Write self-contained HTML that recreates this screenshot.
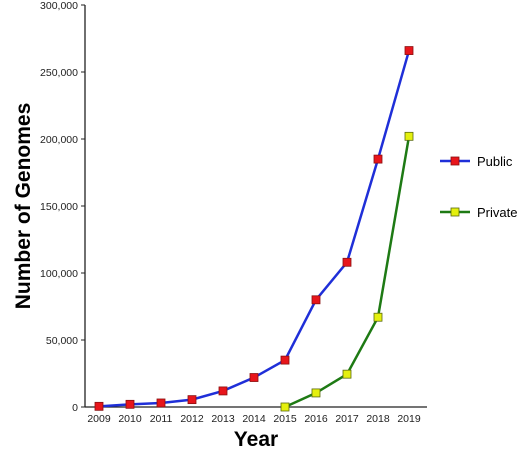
<!DOCTYPE html>
<html><head><style>
body{margin:0;background:#fff;width:520px;height:450px;overflow:hidden}
svg{font-family:"Liberation Sans",Arial,sans-serif}
</style></head><body>
<svg id="c" width="520" height="450">
<g id="axes"></g><g id="series"></g>
<text transform="translate(30,206) rotate(-90)" text-anchor="middle" font-size="21" font-weight="bold">Number of Genomes</text>
<text x="256" y="446" text-anchor="middle" font-size="21" font-weight="bold">Year</text>
<g>
<line x1="440" y1="161" x2="470" y2="161" stroke="#1f2fd8" stroke-width="2.5"/>
<rect x="451" y="157" width="8" height="8" fill="#e8151b" stroke="#8a1010" stroke-width="0.8"/>
<text x="477" y="166" font-size="13">Public</text></g>
<g>
<line x1="440" y1="212" x2="470" y2="212" stroke="#1e7a14" stroke-width="2.5"/>
<rect x="451" y="208" width="8" height="8" fill="#e4f00e" stroke="#5a6a10" stroke-width="0.8"/>
<text x="477" y="217" font-size="13">Private</text></g>
</svg>
<script>
const years=[2009,2010,2011,2012,2013,2014,2015,2016,2017,2018,2019];
const publicVals=[500,2000,3000,5500,12000,22000,35000,80000,108000,185000,266000];
const privateYears=[2015,2016,2017,2018,2019];
const privateVals=[0,10500,24500,67000,202000];
const yTicks=[0,50000,100000,150000,200000,250000,300000];
const NS="http://www.w3.org/2000/svg";
const X=y=>99+(y-2009)*31;
const Y=v=>407-v*(402/300000);
function mk(t,a,p){const e=document.createElementNS(NS,t);for(const k in a)e.setAttribute(k,a[k]);p.appendChild(e);return e;}
const ax=document.getElementById('axes'),se=document.getElementById('series');
let l=mk('line',{x1:85,y1:5,x2:85,y2:407,stroke:'#222','stroke-width':1.3},ax);


l=mk('line',{x1:85,y1:407,x2:427,y2:407,stroke:'#222','stroke-width':1.3},ax);


yTicks.forEach(v=>{
 mk('line',{x1:81,y1:Y(v),x2:85,y2:Y(v),stroke:'#222'},ax);
 const t=mk('text',{x:78,y:Y(v)+4,'text-anchor':'end','font-size':10.5,fill:'#222'},ax);
 t.textContent=v.toLocaleString('en-US');
 
 
});
years.forEach(y=>{
 const t=mk('text',{x:X(y),y:422,'text-anchor':'middle','font-size':10.5,fill:'#222'},ax);
 t.textContent=y;
 
 
});
function series(xs,vs,col,fill,stroke,name){
 const p=mk('polyline',{points:xs.map((y,i)=>X(y)+','+Y(vs[i])).join(' '),fill:'none',stroke:col,'stroke-width':2.5},se);
 
 
 xs.forEach((y,i)=>{
  const r=mk('rect',{x:X(y)-4,y:Y(vs[i])-4,width:8,height:8,fill:fill,stroke:stroke,'stroke-width':0.8},se);
  
  
 });
}
series(years,publicVals,'#1f2fd8','#e8151b','#8a1010','public');
series(privateYears,privateVals,'#1e7a14','#e4f00e','#5a6a10','private');
</script>
</body></html>
